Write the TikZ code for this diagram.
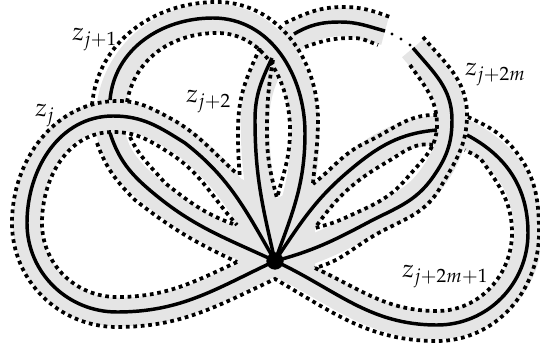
\documentclass[tikz,border=0pt]{standalone}
\usepackage{mathpazo}
\usepackage{xcolor}
\definecolor{bandgray}{HTML}{E5E5E5}
\newcommand{\loopzj}{(275,261) to[out=205,in=0] (117,312) to[out=180,in=270] (27,223) to[out=90,in=180] (113,116) to[out=0,in=148] (185,143) to[out=-38,in=120] (275,261)}
\newcommand{\loopzmlast}{(413,48) to[out=-50,in=90] (452,120) to[out=270,in=55] (433,177) to[out=235,in=28] (367,223) to[out=208,in=15] (275,261)}
\begin{document}
\begin{tikzpicture}[
    x=0.75pt, y=-0.75pt,
    every node/.style={font=\fontsize{19}{21}\selectfont, inner sep=0pt},
    band/.style={draw=bandgray, line width=21.5pt},
    strand/.style={draw=black, line width=2.6pt},
    rim/.style={draw=black, line width=2.8pt, dash pattern=on 2.8pt off 2.8pt},
    gapdot/.style={fill=black, inner sep=0pt, minimum size=2.6pt, shape=circle},
]
\useasboundingbox (0,0) rectangle (540,349);

% Gray bands
\draw[band] \loopzj;
\draw[band] (275,261) to[out=155,in=-40] (152,192) to[out=140,in=270] (110,120) to[out=90,in=180] (213,18) to[out=0,in=90] (305,133) to[out=270,in=70] (275,261);
\draw[band] (275,261) to[out=103,in=270] (255,120) to[out=90,in=180] (340,22) to[out=0,in=165] (385,31);
\draw[band] \loopzmlast;
\draw[band] (275,261) to[out=56,in=220] (350,170) to[out=40,in=185] (437,130) to[out=-2,in=155] (467,135) to[out=-28,in=90] (528,233) to[out=270,in=0] (437,325) to[out=180,in=-25] (275,261);
% Fan where the bands meet
\fill[bandgray] (237,262) -- (233,224) -- (240,178) -- (277,198) -- (313,183) -- (315,228) -- (315,268) -- (275,279) -- cycle;

% Core curves, cut where a loop runs underneath
\draw[strand] \loopzj;
\draw[strand] (275,261) to[out=155,in=-40] (152,192) to[out=140,in=-72] (110,133);
\draw[strand] (110,100) to[out=85,in=180] (213,18) to[out=0,in=90] (305,133) to[out=270,in=70] (275,261);
\draw[strand] (275,261) to[out=103,in=270] (255,120) to[out=90,in=245] (272,58);
\draw[strand] (294,34) to[out=30,in=180] (340,22) to[out=0,in=165] (385,31);
\draw[strand] \loopzmlast;
\draw[strand] (275,261) to[out=56,in=220] (350,170) to[out=40,in=185] (437,130);
\draw[strand] (467,135) to[out=-28,in=90] (528,233) to[out=270,in=0] (437,325) to[out=180,in=-25] (275,261);

% Dotted rims
\draw[rim] (235,172) to[out=138,in=-28] (168,117) to[out=152,in=0] (118,101) to[out=180,in=90] (12,223) to[out=270,in=180] (117,327) to[out=0,in=205] (275,279) to[out=-30,in=180] (437,341) to[out=0,in=270] (539,233) to[out=90,in=-50] (513,148) to[out=130,in=-25] (468,117);
\draw[rim] (92,105) to[out=85,in=180] (217,2) to[out=0,in=90] (318,120) to[out=270,in=85] (313,183);
\draw[rim] (127,102) to[out=80,in=180] (217,33) to[out=0,in=90] (290,130) to[out=270,in=75] (277,198);
\draw[rim] (273,60) to[out=260,in=90] (267,133) to[out=270,in=105] (277,198);
\draw[rim] (260,48) to[out=245,in=90] (238,130) to[out=270,in=95] (240,178);
\draw[rim] (285,23) to[out=25,in=180] (343,7) to[out=0,in=160] (390,17);
\draw[rim] (305,47) to[out=20,in=180] (353,38) to[out=0,in=160] (378,45);
\draw[rim] (423,37) to[out=-50,in=90] (467,115) to[out=270,in=60] (440,188) to[out=240,in=32] (370,238) to[out=212,in=15] (315,268);
\draw[rim] (410,65) to[out=-55,in=90] (437,125) to[out=270,in=50] (407,178) to[out=230,in=25] (347,217) to[out=205,in=15] (315,228);
\draw[rim] (437,115) to[out=178,in=25] (367,142) to[out=205,in=38] (313,184);
\draw[rim] (433,145) to[out=170,in=30] (387,162) to[out=210,in=55] (315,228);
\draw[rim] (315,268) to[out=-25,in=180] (437,311) to[out=0,in=270] (512,233) to[out=90,in=-55] (483,162) to[out=125,in=-30] (465,150);
\draw[rim] (237,262) to[out=205,in=0] (117,297) to[out=180,in=270] (42,223) to[out=90,in=180] (113,132) to[out=0,in=148] (168,152) to[out=-32,in=132] (237,225);
\draw[rim] (97,143) to[out=-70,in=135] (135,200) to[out=-38,in=155] (237,262);
\draw[rim] (130,137) to[out=-65,in=130] (165,183) to[out=-38,in=160] (233,224);

% Gap in the chain of loops
\node[gapdot] (gapa) at (392,34) {};
\node[gapdot] (gapb) at (401,39) {};
\node[gapdot] (gapc) at (410,45) {};

% Vertex
\fill (275,261) circle (6.5pt);

% Labels
\node[anchor=base west] (zj) at (35,117) {$z_j$};
\node[anchor=base west] (zja) at (72,41) {$z_{j+1}$};
\node[anchor=base west] (zjb) at (186,103) {$z_{j+2}$};
\node[anchor=base west] (zjm) at (465,76) {$z_{j+2m}$};
\node[anchor=base west] (zjn) at (402,278) {$z_{j+2m+1}$};
\end{tikzpicture}
\end{document}
